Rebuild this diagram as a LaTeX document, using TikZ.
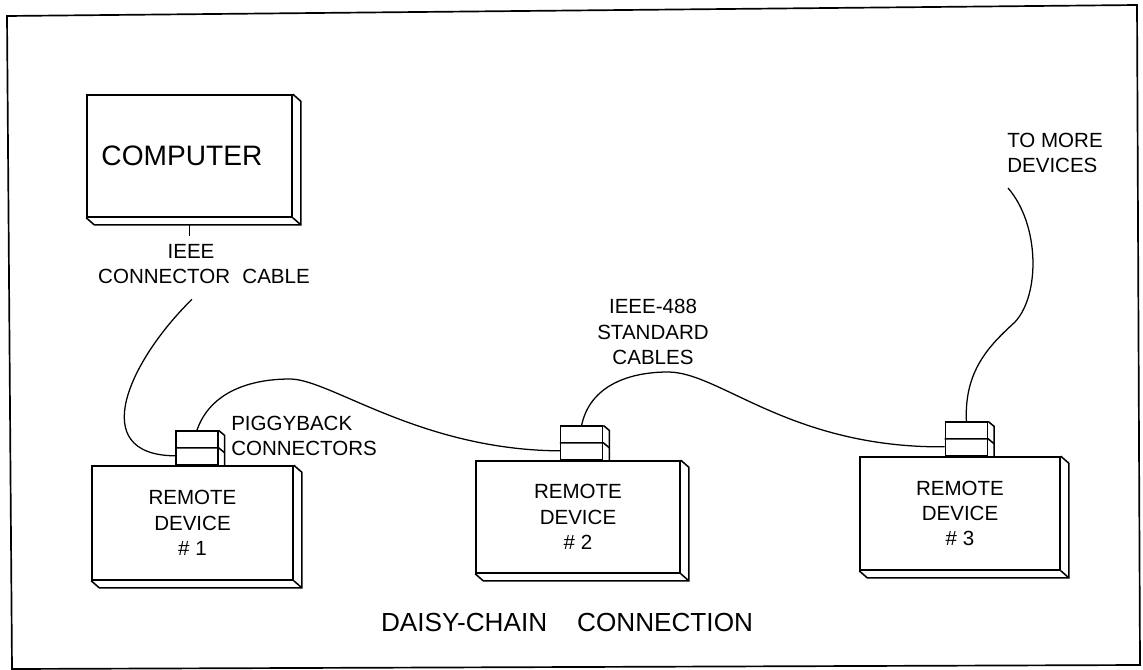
\documentclass[tikz,border=0pt]{standalone}
\usepackage{fontspec}
\setmainfont{Liberation Sans}
\usetikzlibrary{calc,positioning}

% extruded back faces of a unit box
\newcommand{\boxdepth}[1]{%
  \draw[boxline] (#1.north east) -- ++(8,7) -- ($(#1.south east)+(8,7)$) -- ($(#1.south west)+(8,7)$) -- (#1.south west);
  \draw[boxline] (#1.south east) -- ++(8,7);}
% piggyback connector: split line and right face
\newcommand{\conndepth}[1]{%
  \draw[boxline] (#1.west) -- (#1.east) -- ++(6,5);
  \draw[boxline] (#1.north east) -- ++(6,5) -- ($(#1.south east)+(6,0)$);}

\begin{document}
\begin{tikzpicture}[x=0.025cm,y=-0.025cm,
  boxline/.style={line width=1.1pt},
  unitbox/.style={draw,boxline,inner sep=0pt},
  conn/.style={draw,boxline,minimum width=1.05cm,minimum height=0.83cm,inner sep=0pt},
  cable/.style={line width=0.9pt},
  lbl/.style={font=\fontsize{14.6}{18}\selectfont,align=center,inner sep=0pt}]
\useasboundingbox (0,0) rectangle (1143,670);
\draw[line width=1.2pt] (7,16) -- (1137,5) -- (1140,665) -- (12,669) -- cycle;

% computer and devices
\node[unitbox,minimum width=5.125cm,minimum height=3.05cm,text width=4.4cm,align=left,font=\fontsize{20}{24}\selectfont] (comp) at (189.5,156) {COMPUTER};
\boxdepth{comp}
\node[unitbox,lbl,minimum width=5.025cm,minimum height=2.85cm] (dev1) at (192.5,523) {REMOTE\\DEVICE\\\# 1};
\node[unitbox,lbl,minimum width=5.1cm,minimum height=2.8cm] (dev2) at (578,517) {REMOTE\\DEVICE\\\# 2};
\node[unitbox,lbl,minimum width=5.0cm,minimum height=2.825cm] (dev3) at (960,513.5) {REMOTE\\DEVICE\\\# 3};
\boxdepth{dev1}
\boxdepth{dev2}
\boxdepth{dev3}

% piggyback connectors
\node[conn,above=0pt of dev1.north,xshift=0.11cm] (c1) {};
\node[conn,above=0pt of dev2.north,xshift=0.09cm] (c2) {};
\node[conn,above=0pt of dev3.north,xshift=0.16cm] (c3) {};
\conndepth{c1}
\conndepth{c2}
\conndepth{c3}

% labels
\node[lbl] (ieee) at (204,264) {IEEE\hspace*{0.65cm}\\CONNECTOR\hspace{0.6em}CABLE};
\node[lbl,align=left,anchor=west] (piggy) at (231,436) {PIGGYBACK\\CONNECTORS};
\node[lbl] (std) at (653,332) {IEEE-488\\STANDARD\\CABLES};
\node[lbl,align=left,anchor=west] (tomore) at (1007,153) {TO MORE\\DEVICES};
\node[font=\fontsize{18.6}{22}\selectfont] (title) at (567,622) {DAISY-CHAIN\hspace{0.75cm}CONNECTION};

% cables
\coordinate (more) at (1008,188);
\draw[cable] ([yshift=-0.18cm]comp.south) -- ([yshift=0.2cm]ieee.north -| comp.south);
\draw[cable] ([xshift=-0.3cm,yshift=-0.38cm]ieee.south) .. controls (130,360) and (85,455) .. ([yshift=-0.2cm]c1.west);
\draw[cable] (c1.north) .. controls (210,392) and (250,379) .. (290,379) .. controls (330,379) and (420,450) .. ([yshift=-0.2cm]c2.west);
\draw[cable] (c2.north) .. controls (590,385) and (630,372) .. (668,372) .. controls (720,372) and (790,448) .. ([yshift=-0.2cm]c3.west);
\draw[cable] (c3.north) .. controls (964,370) and (990,345) .. (1015,322) .. controls (1040,295) and (1040,225) .. (more);
\end{tikzpicture}
\end{document}
